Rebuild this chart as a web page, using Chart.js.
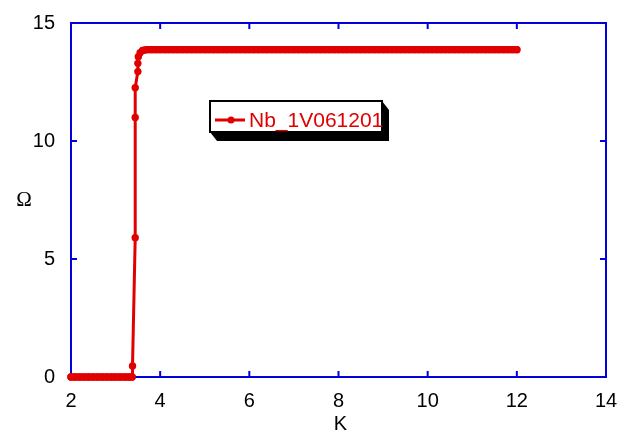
<!DOCTYPE html>
<html>
<head>
<meta charset="utf-8">
<script src="https://cdn.jsdelivr.net/npm/chart.js@4/dist/chart.umd.min.js"></script>
<style>
html, body { margin: 0; padding: 0; background: #fff; }
</style>
</head>
<body>
<canvas id="chart" width="628" height="435"></canvas>
<script>
// Data (temperature K, resistance Ohm)
const seriesLabel = 'Nb_1V061201';

const kLow = [2.0, 2.1, 2.2, 2.3, 2.4, 2.5, 2.6, 2.7, 2.8, 2.9, 3.0, 3.1, 3.2, 3.3, 3.37];
const omegaLow = [0, 0, 0, 0, 0, 0, 0, 0, 0, 0, 0, 0, 0, 0, 0];

const kRise = [3.38, 3.44, 3.44, 3.44, 3.50, 3.50, 3.51, 3.55, 3.61];
const omegaRise = [0.47, 5.9, 11.0, 12.26, 12.94, 13.29, 13.57, 13.74, 13.84];

const kPlateau = [
    3.7, 3.8, 3.9, 4.0, 4.1, 4.2, 4.3, 4.4, 4.5, 4.6, 4.7, 4.8, 4.9, 5.0,
    5.1, 5.2, 5.3, 5.4, 5.5, 5.6, 5.7, 5.8, 5.9, 6.0, 6.1, 6.2, 6.3, 6.4,
    6.5, 6.6, 6.7, 6.8, 6.9, 7.0, 7.1, 7.2, 7.3, 7.4, 7.5, 7.6, 7.7, 7.8,
    7.9, 8.0, 8.1, 8.2, 8.3, 8.4, 8.5, 8.6, 8.7, 8.8, 8.9, 9.0, 9.1, 9.2,
    9.3, 9.4, 9.5, 9.6, 9.7, 9.8, 9.9, 10.0, 10.1, 10.2, 10.3, 10.4, 10.5, 10.6,
    10.7, 10.8, 10.9, 11.0, 11.1, 11.2, 11.3, 11.4, 11.5, 11.6, 11.7, 11.8, 11.9, 12.0
];
const omegaPlateau = [
    13.87, 13.87, 13.87, 13.87, 13.87, 13.87, 13.87, 13.87, 13.87, 13.87, 13.87, 13.87, 13.87, 13.87,
    13.87, 13.87, 13.87, 13.87, 13.87, 13.87, 13.87, 13.87, 13.87, 13.87, 13.87, 13.87, 13.87, 13.87,
    13.87, 13.87, 13.87, 13.87, 13.87, 13.87, 13.87, 13.87, 13.87, 13.87, 13.87, 13.87, 13.87, 13.87,
    13.87, 13.87, 13.87, 13.87, 13.87, 13.87, 13.87, 13.87, 13.87, 13.87, 13.87, 13.87, 13.87, 13.87,
    13.87, 13.87, 13.87, 13.87, 13.87, 13.87, 13.87, 13.87, 13.87, 13.87, 13.87, 13.87, 13.87, 13.87,
    13.87, 13.87, 13.87, 13.87, 13.87, 13.87, 13.87, 13.87, 13.87, 13.87, 13.87, 13.87, 13.87, 13.87
];

const xTicks = [2, 4, 6, 8, 10, 12, 14];
const yTicks = [0, 5, 10, 15];

const RED = '#e00000';
const BLUE = '#0000e0';
const FONT = '"Liberation Sans", Arial, sans-serif';

const kAll = kLow.concat(kRise, kPlateau);
const omegaAll = omegaLow.concat(omegaRise, omegaPlateau);
const points = kAll.map((k, i) => ({ x: k, y: omegaAll[i] }));

// densely sampled flat stretches show up as one thick band in the original
function segmentWidth(ctx) {
    const dy = Math.abs(ctx.p0.parsed.y - ctx.p1.parsed.y);
    return dy < 0.05 ? 7.4 : 3;
}

// Box, inward ticks, axis titles and the shadowed legend
const framePlugin = {
    id: 'frame',
    beforeDatasetsDraw(chart) {
        const ctx = chart.ctx;
        const a = chart.chartArea;
        const xs = chart.scales.x;
        const ys = chart.scales.y;
        ctx.save();
        ctx.strokeStyle = BLUE;
        ctx.lineWidth = 2;
        ctx.strokeRect(a.left, a.top, a.right - a.left, a.bottom - a.top);
        ctx.beginPath();
        xTicks.slice(1, -1).forEach(v => {
            const px = xs.getPixelForValue(v);
            ctx.moveTo(px, a.bottom); ctx.lineTo(px, a.bottom - 6);
            ctx.moveTo(px, a.top); ctx.lineTo(px, a.top + 6);
        });
        yTicks.slice(1, -1).forEach(v => {
            const py = ys.getPixelForValue(v);
            ctx.moveTo(a.left, py); ctx.lineTo(a.left + 6, py);
            ctx.moveTo(a.right, py); ctx.lineTo(a.right - 6, py);
        });
        ctx.stroke();
        ctx.restore();
    },
    afterDraw(chart) {
        const ctx = chart.ctx;
        const a = chart.chartArea;
        ctx.save();

        // axis titles
        ctx.fillStyle = '#000';
        ctx.textAlign = 'center';
        ctx.textBaseline = 'middle';
        ctx.font = '20px ' + FONT;
        ctx.fillText('K', (a.left + a.right) / 2 + 2, 424);
        ctx.font = '21px "Liberation Serif", "DejaVu Serif", serif';
        ctx.fillText('Ω', 24, 200);

        // legend with a black extruded shadow
        const x0 = 210, y0 = 101, x1 = 382, y1 = 132, dx = 7, dy = 9;
        ctx.fillStyle = '#000';
        ctx.beginPath();
        ctx.moveTo(x0, y1);
        ctx.lineTo(x0 + dx, y1 + dy);
        ctx.lineTo(x1 + dx, y1 + dy);
        ctx.lineTo(x1 + dx, y0 + dy);
        ctx.lineTo(x1, y0);
        ctx.closePath();
        ctx.fill();
        ctx.fillStyle = '#fff';
        ctx.fillRect(x0, y0, x1 - x0, y1 - y0);
        ctx.strokeStyle = '#000';
        ctx.lineWidth = 2;
        ctx.strokeRect(x0, y0, x1 - x0, y1 - y0);

        const ly = 120;
        ctx.strokeStyle = RED;
        ctx.lineWidth = 3;
        ctx.beginPath();
        ctx.moveTo(215, ly);
        ctx.lineTo(245, ly);
        ctx.stroke();
        ctx.fillStyle = RED;
        ctx.beginPath();
        ctx.arc(231, ly, 3.5, 0, Math.PI * 2);
        ctx.fill();
        ctx.font = '21px ' + FONT;
        ctx.textAlign = 'left';
        ctx.fillText(seriesLabel, 249, ly + 1);

        ctx.restore();
    }
};

const chart = new Chart(document.getElementById('chart'), {
    type: 'line',
    data: {
        datasets: [{
            label: seriesLabel,
            data: points,
            borderColor: RED,
            backgroundColor: RED,
            borderWidth: 3,
            borderCapStyle: 'round',
            borderJoinStyle: 'round',
            segment: { borderWidth: segmentWidth },
            pointRadius: 3.7,
            pointBorderWidth: 0,
            pointBackgroundColor: RED,
            tension: 0,
            clip: false,
        }],
    },
    options: {
        responsive: false,
        animation: false,
        layout: { padding: { left: 0, right: 22, top: 23, bottom: 0 } },
        plugins: {
            legend: { display: false },
            tooltip: { enabled: false },
        },
        scales: {
            x: {
                type: 'linear',
                min: 2,
                max: 14,
                grid: { display: false },
                border: { display: false },
                afterFit(scale) { scale.height = 58; },
                afterBuildTicks(scale) { scale.ticks = xTicks.map(v => ({ value: v })); },
                ticks: { color: '#000', padding: 4, maxRotation: 0, font: { size: 20, family: FONT } },
            },
            y: {
                type: 'linear',
                min: 0,
                max: 15,
                grid: { display: false },
                border: { display: false },
                afterFit(scale) { scale.width = 71; },
                afterBuildTicks(scale) { scale.ticks = yTicks.map(v => ({ value: v })); },
                ticks: { color: '#000', padding: 8, font: { size: 20, family: FONT } },
            },
        },
    },
    plugins: [framePlugin],
});
</script>
</body>
</html>
